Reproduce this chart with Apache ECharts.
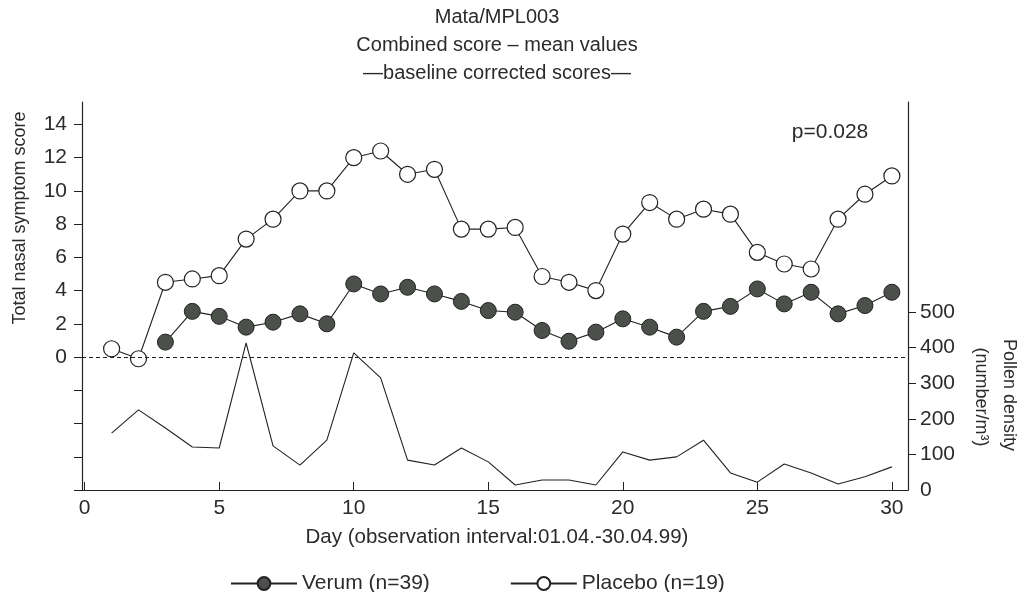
<!DOCTYPE html>
<html>
<head>
<meta charset="utf-8">
<script src="https://cdn.jsdelivr.net/npm/echarts@6/dist/echarts.min.js"></script>
<style>
html,body{margin:0;padding:0;background:#fff;}
#chart{width:1021px;height:592px;}
</style>
</head>
<body>
<div id="chart"></div>
<script>
var days = [1,2,3,4,5,6,7,8,9,10,11,12,13,14,15,16,17,18,19,20,21,22,23,24,25,26,27,28,29,30];
var placebo = [0.5,-0.1,4.5,4.7,4.9,7.1,8.3,10.0,10.0,12.0,12.4,11.0,11.3,7.7,7.7,7.8,4.85,4.5,4.0,7.4,9.3,8.3,8.9,8.6,6.3,5.6,5.3,8.3,9.8,10.9];
var verum = [null,null,0.9,2.75,2.45,1.8,2.1,2.6,2.0,4.4,3.8,4.2,3.8,3.35,2.8,2.7,1.6,0.95,1.5,2.3,1.8,1.2,2.75,3.05,4.1,3.2,3.9,2.6,3.1,3.9];
var pollen = [160,225,174,121,118,413,124,70,140,385,315,84,70,118,79,14,28,28,14,107,84,93,140,48,22,73,48,17,37,65];
var xTicks = [0,5,10,15,20,25,30];
var leftLabels = [0,2,4,6,8,10,12,14];
var leftTicks = [-8,-6,-4,-2,0,2,4,6,8,10,12,14];
var rightLabels = [0,100,200,300,400,500];
var rightTicks = [100,200,300,400,500];

var FONT = '"Liberation Sans", Arial, Helvetica, sans-serif';
var TXT = '#2b2b2b';
var LINE = '#222';

function pairs(vals){ return days.map(function(d,i){ return vals[i]==null ? null : [d, vals[i]]; }).filter(function(p){return p;}); }

var chart = echarts.init(document.getElementById('chart'), null, {renderer:'canvas'});
chart.setOption({
  animation:false,
  backgroundColor:'#fff',
  textStyle:{fontFamily:FONT},
  grid:{left:82, right:113, top:102, bottom:102, containLabel:false},
  xAxis:{
    type:'value', min:-0.1, max:30.6,
    axisLine:{show:true, onZero:false, lineStyle:{color:LINE, width:1.2}},
    axisTick:{show:true, inside:true, length:8, customValues:xTicks, lineStyle:{color:LINE}},
    axisLabel:{customValues:xTicks, color:TXT, fontSize:21, margin:8, fontFamily:FONT},
    splitLine:{show:false}
  },
  yAxis:[
    {type:'value', position:'left', min:-8, max:15.35, interval:2,
      axisLine:{show:true, onZero:false, lineStyle:{color:LINE, width:1.2}},
      axisTick:{show:true, length:8, customValues:leftTicks, lineStyle:{color:LINE}},
      axisLabel:{customValues:leftLabels, color:TXT, fontSize:21, margin:15, fontFamily:FONT},
      splitLine:{show:false}},
    {type:'value', position:'right', min:0, max:1090, interval:100,
      axisLine:{show:true, onZero:false, lineStyle:{color:LINE, width:1.2}},
      axisTick:{show:true, length:8, customValues:rightTicks, lineStyle:{color:LINE}},
      axisLabel:{customValues:rightLabels, color:TXT, fontSize:21, margin:12, fontFamily:FONT},
      splitLine:{show:false}}
  ],
  legend:{
    left:225, top:568, itemGap:80, itemWidth:66, itemHeight:16,
    data:['Verum (n=39)','Placebo (n=19)'],
    textStyle:{color:TXT, fontSize:21, fontFamily:FONT}
  },
  series:[
    {
      name:'Pollen', type:'line', yAxisIndex:1, data:pairs(pollen),
      symbol:'none', lineStyle:{color:LINE, width:1.1}, z:1
    },
    {
      name:'Verum (n=39)', type:'line', yAxisIndex:0, data:pairs(verum),
      symbol:'circle', symbolSize:16,
      itemStyle:{color:'#4b504b', borderColor:'#222', borderWidth:1},
      lineStyle:{color:LINE, width:1.1}, z:3,
      markLine:{
        silent:true, symbol:'none', label:{show:false},
        lineStyle:{color:LINE, type:[4,3], width:1},
        data:[{yAxis:0}]
      }
    },
    {
      name:'Placebo (n=19)', type:'line', yAxisIndex:0, data:pairs(placebo),
      symbol:'circle', symbolSize:16,
      itemStyle:{color:'#fff', borderColor:'#222', borderWidth:1.2},
      lineStyle:{color:LINE, width:1.1}, z:4
    }
  ],
  graphic:[
    {type:'text', style:{text:'Mata/MPL003', x:497, y:17, align:'center', verticalAlign:'middle', fontSize:20, fill:TXT, fontFamily:FONT}},
    {type:'text', style:{text:'Combined score – mean values', x:497, y:45, align:'center', verticalAlign:'middle', fontSize:20, fill:TXT, fontFamily:FONT}},
    {type:'text', style:{text:'—baseline corrected scores—', x:497, y:73, align:'center', verticalAlign:'middle', fontSize:20, fill:TXT, fontFamily:FONT}},
    {type:'text', style:{text:'p=0.028', x:830, y:132, align:'center', verticalAlign:'middle', fontSize:21, fill:TXT, fontFamily:FONT}},
    {type:'text', style:{text:'Day (observation interval:01.04.-30.04.99)', x:497, y:537, align:'center', verticalAlign:'middle', fontSize:20.5, fill:TXT, fontFamily:FONT}},
    {type:'text', x:20, y:218, rotation:Math.PI/2, style:{text:'Total nasal symptom score', x:0, y:0, align:'center', verticalAlign:'middle', fontSize:18, fill:TXT, fontFamily:FONT}},
    {type:'text', x:1009, y:395, rotation:-Math.PI/2, style:{text:'Pollen density', x:0, y:0, align:'center', verticalAlign:'middle', fontSize:18, fill:TXT, fontFamily:FONT}},
    {type:'text', x:981, y:397, rotation:-Math.PI/2, style:{text:'(number/m³)', x:0, y:0, align:'center', verticalAlign:'middle', fontSize:18, fill:TXT, fontFamily:FONT}}
  ]
});
</script>
</body>
</html>
